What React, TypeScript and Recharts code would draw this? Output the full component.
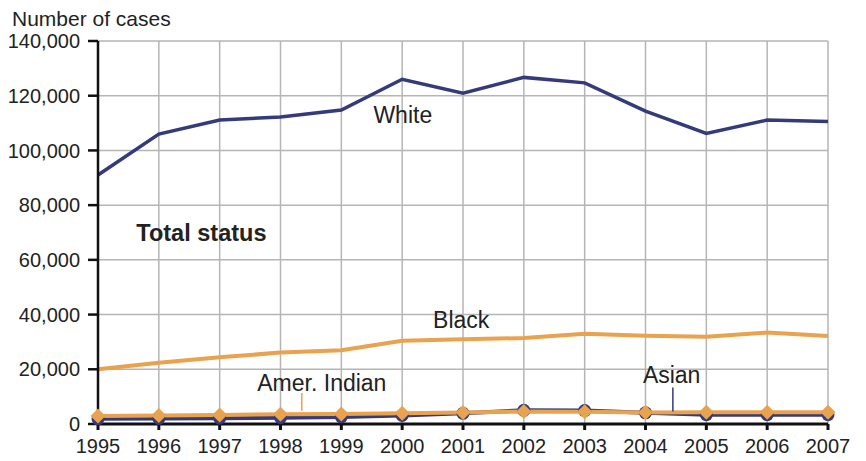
import { LineChart, Line, XAxis, YAxis, CartesianGrid, ReferenceDot, ReferenceLine } from 'recharts';

const years = [1995, 1996, 1997, 1998, 1999, 2000, 2001, 2002, 2003, 2004, 2005, 2006, 2007];
const white = [91000, 106000, 111100, 112200, 114800, 126000, 120900, 126700, 124700, 114400, 106200, 111100, 110600];
const black = [20000, 22400, 24400, 26100, 27000, 30400, 31000, 31400, 33000, 32300, 31900, 33400, 32200];
const amerIndian = [2900, 3100, 3300, 3600, 3700, 3900, 4200, 4600, 4500, 4200, 4300, 4300, 4300];
const asian = [1900, 2000, 2100, 2300, 2600, 3100, 3900, 5000, 4900, 4100, 3400, 3400, 3400];
const yTicks = [0, 20000, 40000, 60000, 80000, 100000, 120000, 140000];

const data = years.map((year, i) => ({
  year,
  white: white[i],
  black: black[i],
  amerIndian: amerIndian[i],
  asian: asian[i],
}));

const NAVY = '#343a7a';
const ORANGE = '#e9a24d';
const FONT = '"Liberation Sans", Arial, Helvetica, sans-serif';

const textShape = (text: string, size: number, anchor: string, bold = false) => (props: any) => (
  <text
    x={props.cx}
    y={props.cy}
    textAnchor={anchor}
    fontSize={size}
    fontWeight={bold ? 'bold' : 'normal'}
    fontFamily={FONT}
    fill="#222"
  >
    {text}
  </text>
);

const circleDot = (props: any) => (
  <circle key={'c' + props.index} cx={props.cx} cy={props.cy} r={6.5} fill={NAVY} />
);

const diamondDot = (props: any) => {
  const { cx, cy } = props;
  const s = 7.5;
  return (
    <polygon
      key={'d' + props.index}
      points={`${cx},${cy - s} ${cx + s},${cy} ${cx},${cy + s} ${cx - s},${cy}`}
      fill={ORANGE}
    />
  );
};

export default function App() {
  return (
    <div style={{ position: 'absolute', left: 0, top: 0, width: 866, height: 461, background: '#fff', fontFamily: FONT }}>
      <div style={{ position: 'absolute', left: 12, top: 8, fontSize: 21, lineHeight: 1, color: '#222' }}>
        Number of cases
      </div>
      <LineChart width={866} height={461} data={data} margin={{ top: 41, right: 38, left: 0, bottom: 0 }}>
        <CartesianGrid stroke="#b5b5b5" strokeWidth={1.5} />
        <XAxis
          dataKey="year"
          type="number"
          domain={[1995, 2007]}
          ticks={years}
          height={37}
          stroke="#111"
          strokeWidth={3}
          tickSize={6}
          tickMargin={9}
          tick={{ fill: '#222', fontSize: 20, fontFamily: FONT }}
        />
        <YAxis
          domain={[0, 140000]}
          ticks={yTicks}
          width={98}
          stroke="#111"
          strokeWidth={2.5}
          tickSize={10}
          tickMargin={8}
          tickFormatter={(v: number) => v.toLocaleString('en-US')}
          tick={{ fill: '#222', fontSize: 20, fontFamily: FONT }}
        />
        <Line type="linear" dataKey="white" stroke={NAVY} strokeWidth={3.5} dot={false} isAnimationActive={false} />
        <Line type="linear" dataKey="black" stroke={ORANGE} strokeWidth={4} dot={false} isAnimationActive={false} />
        <Line type="linear" dataKey="asian" stroke={NAVY} strokeWidth={4} dot={circleDot} isAnimationActive={false} />
        <Line type="linear" dataKey="amerIndian" stroke={ORANGE} strokeWidth={4} dot={diamondDot} isAnimationActive={false} />
        <ReferenceLine segment={[{ x: 1998.35, y: 4800 }, { x: 1998.35, y: 11300 }]} stroke={ORANGE} strokeWidth={1.5} />
        <ReferenceLine segment={[{ x: 2004.45, y: 4600 }, { x: 2004.45, y: 13300 }]} stroke={NAVY} strokeWidth={1.5} />
        <ReferenceDot x={2000.01} y={109900} r={0} shape={textShape('White', 23, 'middle')} />
        <ReferenceDot x={1995.63} y={66900} r={0} shape={textShape('Total status', 23.5, 'start', true)} />
        <ReferenceDot x={2000.97} y={35000} r={0} shape={textShape('Black', 23, 'middle')} />
        <ReferenceDot x={1998.68} y={12060} r={0} shape={textShape('Amer. Indian', 23, 'middle')} />
        <ReferenceDot x={2004.43} y={15100} r={0} shape={textShape('Asian', 23, 'middle')} />
      </LineChart>
    </div>
  );
}
